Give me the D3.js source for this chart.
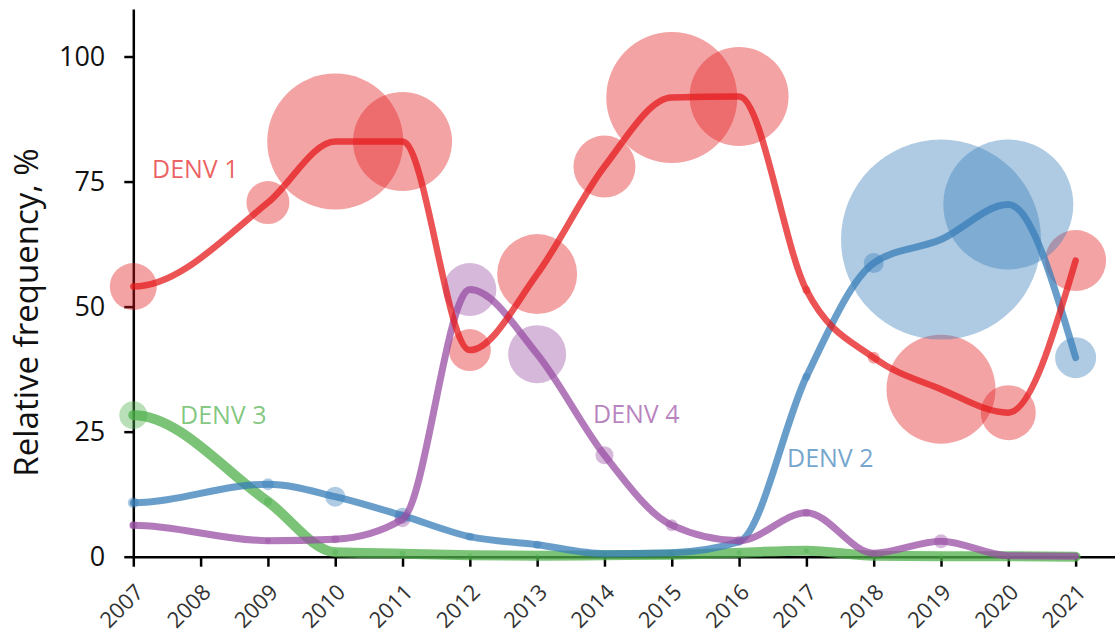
<!DOCTYPE html>
<html>
<head>
<meta charset="utf-8">
<script src="https://cdn.jsdelivr.net/npm/d3@7/dist/d3.min.js"></script>
<style>
  body { margin: 0; background: #fff; }
  svg { display: block; }
  text { font-family: "Open Sans", "DejaVu Sans", sans-serif; }
</style>
</head>
<body>
<svg id="chart" width="1115" height="638"></svg>
<script>
// Sampling years (no sequences were available for 2008)
const years = [2007, 2008, 2009, 2010, 2011, 2012, 2013, 2014, 2015, 2016, 2017, 2018, 2019, 2020, 2021];
const yTicks = [0, 25, 50, 75, 100];

// Relative frequency of each serotype per year, %
const denv1Freq = [54.0, null, 70.8, 83.0, 83.0, 41.3, 56.5, 78.0, 91.8, 92.0, 53.3, 39.8, 33.5, 28.8, 59.2];
const denv2Freq = [10.8, null, 14.5, 12.0, 8.2, 4.0, 2.4, 0.6, 0.8, 3.0, 36.0, 58.7, 63.4, 70.4, 39.8];
const denv3Freq = [28.3, null, 11.0, 0.9, 0.6, 0.3, 0.2, 0.3, 0.4, 0.8, 1.2, 0.2, 0.1, 0.1, 0.0];
const denv4Freq = [6.3, null, 3.2, 3.5, 7.5, 53.4, 40.5, 20.3, 6.3, 3.2, 8.8, 0.7, 3.1, 0.2, 0.1];

// Number of sequences behind each point (bubble size)
const denv1Count = [235, null, 215, 680, 495, 210, 400, 310, 655, 495, 40, 60, 545, 275, 305];
const denv2Count = [55, null, 60, 100, 80, 40, 40, 25, 30, 30, 40, 100, 1000, 650, 205];
const denv3Count = [140, null, 40, 30, 30, 20, 20, 15, 15, 25, 25, 15, 15, 5, 0];
const denv4Count = [40, null, 30, 40, 80, 265, 290, 90, 60, 50, 40, 30, 70, 20, 10];

const serotypes = [
  { name: "DENV 1", freq: denv1Freq, count: denv1Count, color: "#e41a1c", width: 6.5, label: [152, 178] },
  { name: "DENV 2", freq: denv2Freq, count: denv2Count, color: "#377eb8", width: 7,   label: [787, 467] },
  { name: "DENV 3", freq: denv3Freq, count: denv3Count, color: "#4daf4a", width: 10,  label: [180, 424] },
  { name: "DENV 4", freq: denv4Freq, count: denv4Count, color: "#984ea3", width: 7,   label: [593, 423] }
];

const svg = d3.select("#chart");

const x = d3.scaleLinear().domain([2007, 2021.585]).range([133.3, 1115]);
const y = d3.scaleLinear().domain([0, 109.5]).range([556.7, 9]);
const r = d3.scaleLinear().domain([0, 1000]).range([0, 100]);

const points = s => years
  .map((yr, i) => ({ year: yr, value: s.freq[i], n: s.count[i] }))
  .filter(d => d.value != null);

// Monotone cubic through the yearly points, starting with a flat tangent
function smoothPath(data) {
  const px = data.map(d => x(d.year)), py = data.map(d => y(d.value));
  const n = px.length, t = new Array(n).fill(0);
  const sign = v => v < 0 ? -1 : 1;
  for (let i = 1; i < n - 1; i++) {
    const h0 = px[i] - px[i - 1], h1 = px[i + 1] - px[i];
    const s0 = (py[i] - py[i - 1]) / h0, s1 = (py[i + 1] - py[i]) / h1;
    const p = (s0 * h1 + s1 * h0) / (h0 + h1);
    t[i] = (sign(s0) + sign(s1)) * Math.min(Math.abs(s0), Math.abs(s1), 0.5 * Math.abs(p)) || 0;
  }
  t[0] = 0;
  const hl = px[n - 1] - px[n - 2];
  t[n - 1] = (3 * (py[n - 1] - py[n - 2]) / hl - t[n - 2]) / 2;
  const path = d3.path();
  path.moveTo(px[0], py[0]);
  for (let i = 0; i < n - 1; i++) {
    const dx = (px[i + 1] - px[i]) / 3;
    path.bezierCurveTo(px[i] + dx, py[i] + dx * t[i], px[i + 1] - dx, py[i + 1] - dx * t[i + 1], px[i + 1], py[i + 1]);
  }
  return path.toString();
}

// Axes
const yAxis = svg.append("g")
  .attr("transform", `translate(${x(2007)},0)`)
  .call(d3.axisLeft(y).tickValues(yTicks).tickSize(9).tickSizeOuter(0).tickPadding(19));
yAxis.selectAll("text").attr("font-size", 27).attr("fill", "#111");

const xAxis = svg.append("g")
  .attr("transform", `translate(0,${y(0)})`)
  .call(d3.axisBottom(x).tickValues(years).tickSize(10).tickSizeOuter(0).tickFormat(d3.format("d")));
xAxis.selectAll("text")
  .attr("font-size", 22)
  .attr("fill", "#333")
  .attr("text-anchor", "end")
  .attr("y", 0).attr("dy", 0)
  .attr("transform", "translate(11,37) rotate(-45)");

svg.selectAll(".domain, .tick line").attr("stroke", "#000").attr("stroke-width", 2.5);

svg.append("text")
  .attr("transform", `translate(38,312.5) rotate(-90)`)
  .attr("text-anchor", "middle")
  .attr("font-size", 33)
  .attr("fill", "#111")
  .text("Relative frequency, %");

// Bubbles sized by number of sequences
serotypes.forEach(s => {
  svg.append("g")
    .selectAll("circle")
    .data(points(s).filter(d => d.n > 0))
    .join("circle")
    .attr("cx", d => x(d.year))
    .attr("cy", d => y(d.value))
    .attr("r", d => Math.max(r(d.n), 2))
    .attr("fill", s.color)
    .attr("fill-opacity", 0.4);
});

// Smoothed frequency lines
[2, 1, 3, 0].forEach(k => {
  const s = serotypes[k];
  svg.append("path")
    .attr("d", smoothPath(points(s)))
    .attr("fill", "none")
    .attr("stroke", s.color)
    .attr("stroke-opacity", 0.75)
    .attr("stroke-width", s.width)
    .attr("stroke-linejoin", "round")
    .attr("stroke-linecap", "round");
});

// Serotype labels
serotypes.forEach(s => {
  svg.append("text")
    .attr("x", s.label[0])
    .attr("y", s.label[1])
    .attr("font-size", 25)
    .attr("fill", s.color)
    .attr("fill-opacity", 0.7)
    .text(s.name);
});
</script>
</body>
</html>
